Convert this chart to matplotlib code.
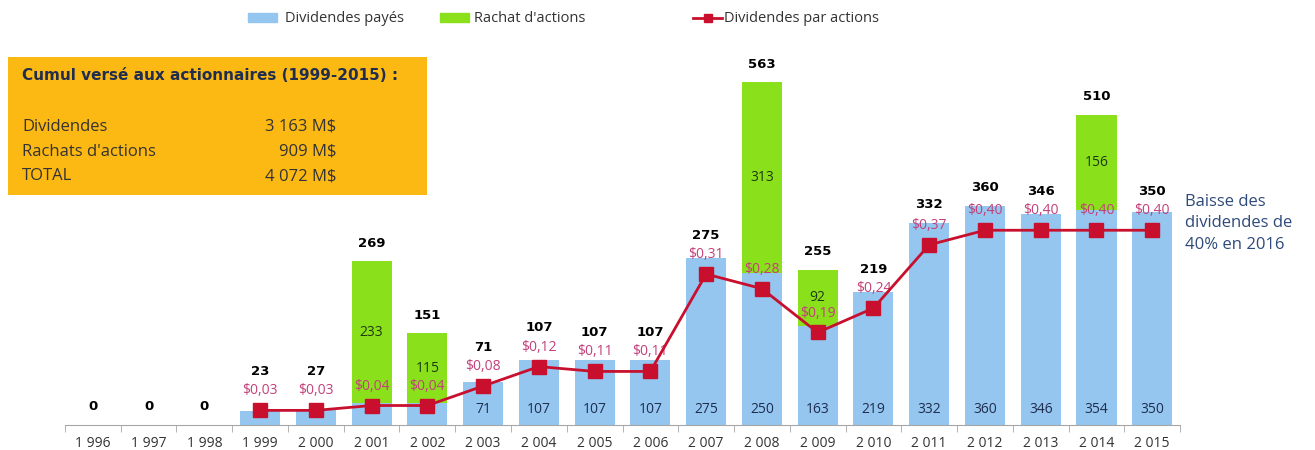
import matplotlib.pyplot as plt
import numpy as np
from matplotlib.lines import Line2D
from matplotlib.patches import Patch, Rectangle

plt.rcParams["font.family"] = ["Open Sans", "DejaVu Sans"]
bold_font = ["DejaVu Sans"]

years = ["1 996", "1 997", "1 998", "1 999", "2 000", "2 001", "2 002", "2 003",
         "2 004", "2 005", "2 006", "2 007", "2 008", "2 009", "2 010", "2 011",
         "2 012", "2 013", "2 014", "2 015"]
dividendes = [0, 0, 0, 23, 27, 36, 36, 71, 107, 107, 107, 275, 250, 163, 219,
              332, 360, 346, 354, 350]
rachats = [0, 0, 0, 0, 0, 233, 115, 0, 0, 0, 0, 0, 313, 92, 0, 0, 0, 0, 156, 0]
totaux = [0, 0, 0, 23, 27, 269, 151, 71, 107, 107, 107, 275, 563, 255, 219,
          332, 360, 346, 510, 350]
dpa = [None, None, None, 0.03, 0.03, 0.04, 0.04, 0.08, 0.12, 0.11, 0.11, 0.31,
       0.28, 0.19, 0.24, 0.37, 0.40, 0.40, 0.40, 0.40]

blue = "#95C6F0"
green = "#8BE01C"
red = "#C8102E"
pink = "#C2407A"
navy = "#1F2D4E"

fig = plt.figure(figsize=(13.15, 4.5), dpi=100)
ax = fig.add_axes([0.0494, 0.0556, 0.848, 0.833])
x = np.arange(len(years))

ax.bar(x, dividendes, width=0.72, color=blue, zorder=2)
ax.bar(x, rachats, width=0.72, bottom=dividendes, color=green, zorder=2)

ax.set_xlim(-0.5, len(years) - 0.5)
ax.set_ylim(0, 616)
for s in ["top", "right", "left"]:
    ax.spines[s].set_visible(False)
ax.spines["bottom"].set_color("#A6A6A6")
ax.set_yticks([])
ax.set_xticks(x)
ax.set_xticklabels(years, fontsize=10, color="#333333")
ax.tick_params(axis="x", which="major", length=0, pad=8)
ax.set_xticks(np.arange(-0.5, len(years)), minor=True)
ax.tick_params(axis="x", which="minor", length=5, color="#A6A6A6")

ax2 = ax.twinx()
ax2.set_ylim(0, 0.770)
ax2.axis("off")
xs = [i for i in x if dpa[i] is not None]
ys = [dpa[i] for i in xs]
ax2.plot(xs, ys, color=red, lw=2, marker="s", ms=10, mfc=red, mec=red, zorder=4)
for i, v in zip(xs, ys):
    ax2.annotate("$" + f"{v:.2f}".replace(".", ","), (i, v), xytext=(0, 14),
                 textcoords="offset points", ha="center", va="center",
                 fontsize=10, color=pink)

# total labels: above the bar, pushed up when the DPS label sits higher
for i in x:
    bar_px = ax.transData.transform((i, totaux[i]))[1]
    lab_px = bar_px + 18
    if dpa[i] is not None:
        dps_px = ax2.transData.transform((i, dpa[i]))[1]
        lab_px = max(lab_px, dps_px + 39)
    ax.annotate(str(totaux[i]), (i, totaux[i]), xytext=(0, (lab_px - bar_px) * 0.72),
                textcoords="offset points", ha="center", va="center",
                fontsize=9.5, fontweight="bold", family=bold_font, color="black")
    if dividendes[i] > 0:
        ax.annotate(str(dividendes[i]), (i, 0), xytext=(0, 11), textcoords="offset points",
                    ha="center", va="center", fontsize=10, color=navy, zorder=3)
    if rachats[i] > 0:
        ax.text(i, dividendes[i] + rachats[i] / 2, str(rachats[i]), ha="center",
                va="center", fontsize=10, color="#1E3A10", zorder=3)

# summary box
fig.patches.append(Rectangle((0.006, 0.567), 0.319, 0.307, transform=fig.transFigure,
                             facecolor="#FDB913", edgecolor="none", zorder=0))
fig.text(0.017, 0.833, "Cumul versé aux actionnaires (1999-2015) :", fontsize=11,
         fontweight="bold", family=bold_font, color=navy, va="center")
rows = [("Dividendes", "3 163 M$"), ("Rachats d'actions", "909 M$"), ("TOTAL", "4 072 M$")]
for k, (lab, val) in enumerate(rows):
    yy = 0.718 - k * 0.055
    fig.text(0.017, yy, lab, fontsize=12, color="#333333", va="center")
    fig.text(0.256, yy, val, fontsize=12, color="#333333", va="center", ha="right")

fig.text(0.901, 0.504, "Baisse des\ndividendes de\n40% en 2016", fontsize=12,
         color="#2E4A7A", va="center", linespacing=1.45)

leg_kw = dict(frameon=False, loc="center left", fontsize=10.5, handlelength=2.0,
              handleheight=0.6, labelcolor="#333333")
fig.legend([Patch(color=blue)], ["Dividendes payés"], bbox_to_anchor=(0.1787, 0.958),
           handletextpad=0.5, **leg_kw)
fig.legend([Patch(color=green)], ["Rachat d'actions"], bbox_to_anchor=(0.3247, 0.958),
           handletextpad=0.3, **leg_kw)
fig.legend([Line2D([], [], color=red, lw=2, marker="s", ms=6)],
           ["Dividendes par actions"], bbox_to_anchor=(0.517, 0.958),
           handletextpad=0.1, **leg_kw)

fig.savefig("out.png", dpi=100)
